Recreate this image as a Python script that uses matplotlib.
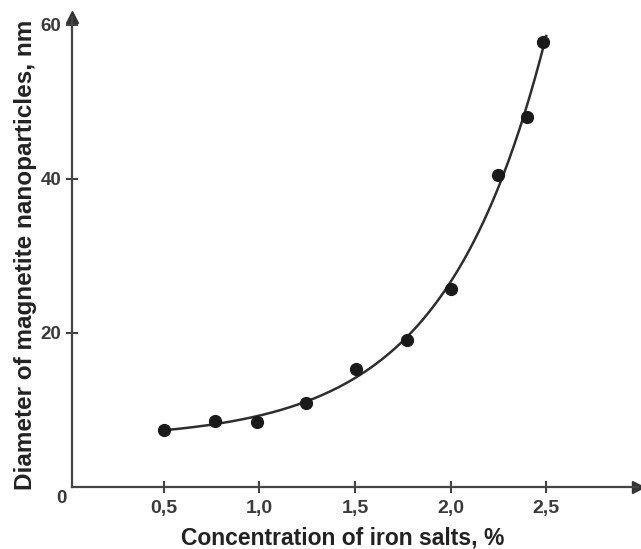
import numpy as np
import matplotlib
matplotlib.use("Agg")
import matplotlib.pyplot as plt

# Data
concentration = [0.5, 0.77, 0.99, 1.245, 1.505, 1.77, 2.0, 2.25, 2.4, 2.485]
diameter = [7.4, 8.6, 8.4, 10.9, 15.3, 19.1, 25.7, 40.5, 48.0, 57.7]
x_ticks = [0.5, 1.0, 1.5, 2.0, 2.5]
x_tick_labels = ["0,5", "1,0", "1,5", "2,0", "2,5"]
y_ticks = [20, 40, 60]
y_tick_labels = ["20", "40", "60"]

plt.rcParams['font.family'] = ['Liberation Sans', 'DejaVu Sans']
text_color = "#3a3a3a"

fig = plt.figure(figsize=(6.41, 5.49), dpi=100)
ax = fig.add_axes([72/641, (549-487)/549, (638-72)/641, (487-17)/549])

# exponential trend fit y = a + b*exp(c*x)
xd = np.array(concentration)
yd = np.array(diameter)
best = None
for c in np.linspace(0.5, 4.0, 701):
    A = np.column_stack([np.ones_like(xd), np.exp(c * xd)])
    coef, *_ = np.linalg.lstsq(A, yd, rcond=None)
    err = np.sum((A @ coef - yd) ** 2)
    if best is None or err < best[0]:
        best = (err, c, coef)
_, c, (a, b) = best
xs = np.linspace(xd.min(), 2.5, 300)
ax.plot(xs, a + b * np.exp(c * xs), color="#2e2e2e", lw=1.8, zorder=2)
ax.plot(xd, yd, 'o', color="#1a1a1a", ms=8.5, zorder=3)

ax.set_xlim(0.021, 2.98)
ax.set_ylim(0, 61.0)

for s in ['top', 'right']:
    ax.spines[s].set_visible(False)
for s in ['left', 'bottom']:
    ax.spines[s].set_color("#444444")
    ax.spines[s].set_linewidth(1.6)

# arrow heads
ax.plot([1], [0], marker='>', ms=9, color="#333333", transform=ax.transAxes, clip_on=False)
ax.plot([0], [1], marker='^', ms=9, color="#333333", transform=ax.transAxes, clip_on=False)

ax.set_xticks(x_ticks)
ax.set_xticklabels(x_tick_labels)
ax.set_yticks(y_ticks)
ax.set_yticklabels(y_tick_labels)
ax.tick_params(direction='inout', length=9, width=1.5, color="#444444",
               labelcolor=text_color)
ax.tick_params(axis='x', pad=5, labelsize=14)
ax.tick_params(axis='y', pad=3, labelsize=13.5)
for lab in ax.get_xticklabels() + ax.get_yticklabels():
    lab.set_fontweight('bold')

ax.text(-0.009, -0.006, "0", transform=ax.transAxes, ha='right', va='top',
        fontsize=13.5, fontweight='bold', color=text_color)

ax.set_xlabel("Concentration of iron salts, %", fontsize=16.5, fontweight='bold',
              color="#222222")
ax.xaxis.set_label_coords(0.478, -0.085)
ax.set_ylabel("Diameter of magnetite nanoparticles, nm", fontsize=17.5,
              fontweight='bold', color="#222222")
ax.yaxis.set_label_coords(-0.062, 0.494)

fig.savefig("out.png", dpi=100)
